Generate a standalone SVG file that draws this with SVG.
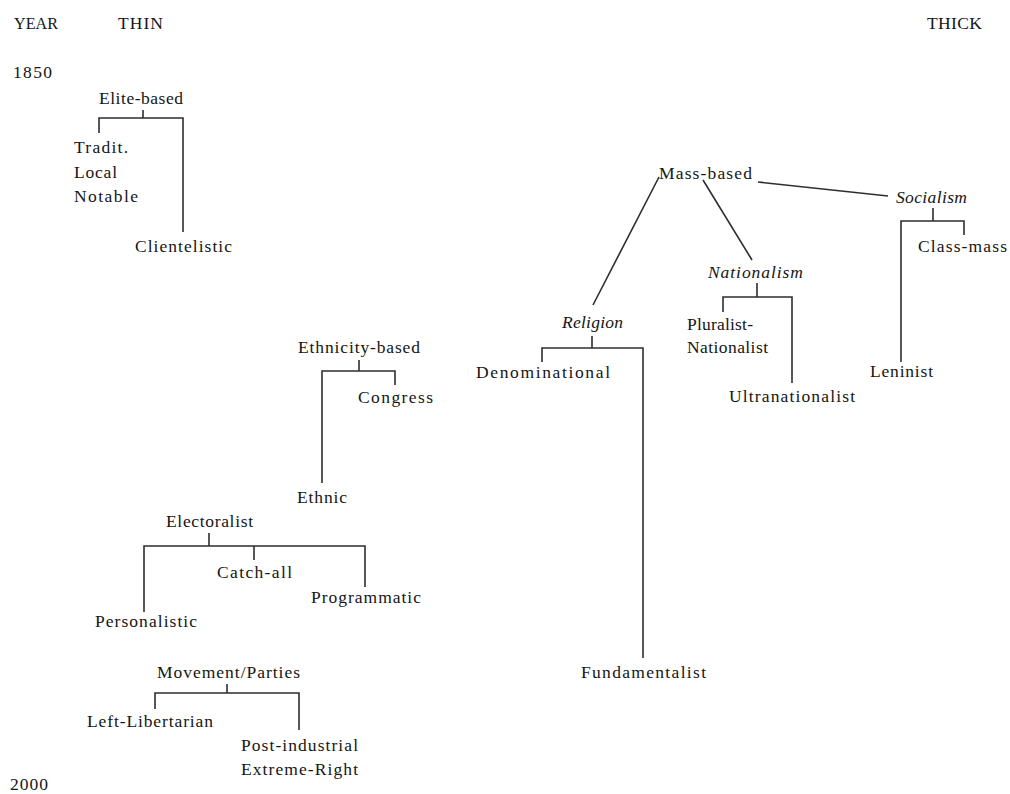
<svg xmlns="http://www.w3.org/2000/svg" width="1010" height="794" viewBox="0 0 1010 794">
<style>
text{font-family:"Liberation Serif","Times New Roman",serif;font-size:17.5px;fill:#151515}
.i{font-style:italic}
.c{fill:none;stroke:#2e2e2e;stroke-width:1.6}
</style>
<rect width="1010" height="794" fill="#fff"/>
<g id="axis">
<text x="14" y="29" textLength="44" lengthAdjust="spacingAndGlyphs">YEAR</text>
<text x="118" y="29" textLength="45">THIN</text>
<text x="927" y="29" textLength="55">THICK</text>
<text x="13" y="78" textLength="39">1850</text>
<text x="10" y="790" textLength="38">2000</text>
</g>
<g id="connectors">
<path class="c" d="M143 110V118M99 133V118H183V232"/>
<path class="c" d="M758 182L888 196M659 177L593 305M703 180L752 260"/>
<path class="c" d="M757 283V297M723 312V297H792V383"/>
<path class="c" d="M933 208V221M901 362V221H964V235"/>
<path class="c" d="M592 336V348M542 362V348H643V658"/>
<path class="c" d="M359 360V371M322 483V371H395V385"/>
<path class="c" d="M209 533V546M144 612V546H365V587M254 546V560"/>
<path class="c" d="M227 684V693M155 709V693H299V730"/>
</g>
<g id="elite"><text x="99" y="104" textLength="84">Elite-based</text></g>
<g id="tradit"><text x="74" y="153" textLength="54">Tradit.</text><text x="74" y="178" textLength="43">Local</text><text x="74" y="202" textLength="64">Notable</text></g>
<g id="clientelistic"><text x="135" y="252" textLength="97">Clientelistic</text></g>
<g id="mass"><text x="659" y="179" textLength="93">Mass-based</text></g>
<g id="socialism"><text class="i" x="896" y="203" textLength="71">Socialism</text></g>
<g id="classmass"><text x="918" y="252" textLength="89">Class-mass</text></g>
<g id="leninist"><text x="870" y="377" textLength="63">Leninist</text></g>
<g id="nationalism"><text class="i" x="708" y="278" textLength="95">Nationalism</text></g>
<g id="pluralist"><text x="687" y="330" textLength="66">Pluralist-</text><text x="687" y="353" textLength="81">Nationalist</text></g>
<g id="ultra"><text x="729" y="402" textLength="126">Ultranationalist</text></g>
<g id="religion"><text class="i" x="562" y="328" textLength="61">Religion</text></g>
<g id="denominational"><text x="476" y="378" textLength="134">Denominational</text></g>
<g id="fundamentalist"><text x="581" y="678" textLength="125">Fundamentalist</text></g>
<g id="ethnicity"><text x="298" y="353" textLength="122">Ethnicity-based</text></g>
<g id="congress"><text x="358" y="403" textLength="75">Congress</text></g>
<g id="ethnic"><text x="297" y="503" textLength="50">Ethnic</text></g>
<g id="electoralist"><text x="166" y="527" textLength="87">Electoralist</text></g>
<g id="catchall"><text x="217" y="578" textLength="75">Catch-all</text></g>
<g id="programmatic"><text x="311" y="603" textLength="110">Programmatic</text></g>
<g id="personalistic"><text x="95" y="627" textLength="102">Personalistic</text></g>
<g id="movement"><text x="157" y="678" textLength="143">Movement/Parties</text></g>
<g id="leftlib"><text x="87" y="727" textLength="126">Left-Libertarian</text></g>
<g id="postind"><text x="241" y="751" textLength="117">Post-industrial</text><text x="241" y="775" textLength="117">Extreme-Right</text></g>
</svg>
